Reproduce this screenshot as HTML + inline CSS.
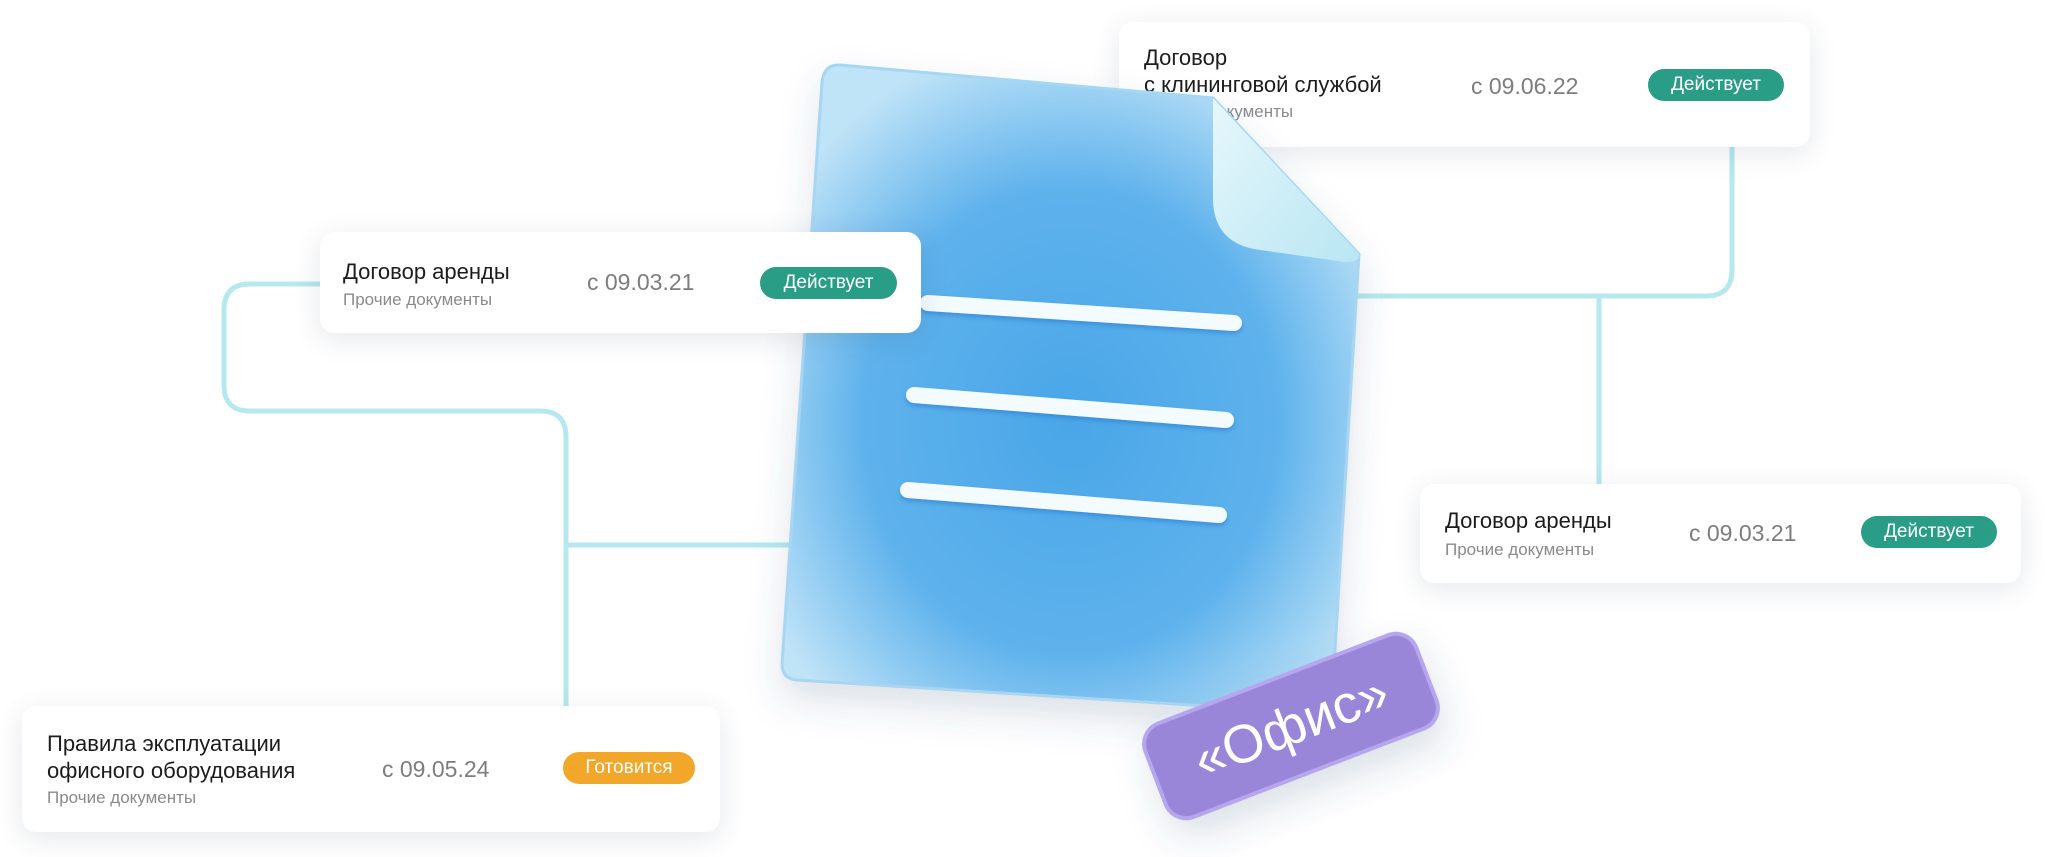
<!DOCTYPE html>
<html><head><meta charset="utf-8"><style>
body{margin:0;width:2045px;height:857px;background:#fff;position:relative;overflow:hidden;font-family:"Liberation Sans","Noto Sans CJK SC",sans-serif}
.card{position:absolute;background:#fff;border-radius:14px;box-shadow:0 6px 28px rgba(40,60,90,.12)}
.t{position:absolute;font-size:22px;color:#1c1c1c;line-height:27px}
.s{position:absolute;font-size:17px;color:#8a8a8a}
.d{position:absolute;font-size:23px;color:#7d7d7d}
.b{position:absolute;border-radius:17px;color:#fff;font-size:19px;text-align:center;line-height:32px;height:32px}
.g{background:#2a9d87}.o{background:#f2a72a}
svg{position:absolute;left:0;top:0}
</style></head><body>
<svg width="2045" height="857">
<g fill="none" stroke="#b6e8ef" stroke-width="5">
<path d="M320 284 H250 Q224 284 224 310 V385 Q224 411 250 411 H540 Q566 411 566 437 V706"/>
<path d="M566 545 H790"/>
<path d="M1732 147 V270 Q1732 296 1706 296 H1350"/>
<path d="M1599 296 V484"/>
</g>
</svg>
<div class="card" style="left:1119px;top:22px;width:691px;height:125px">
<div class="t" style="left:25px;top:22px">Договор<br>с клининговой службой</div>
<div class="s" style="left:25px;top:80px">Прочие документы</div>
<div class="d" style="left:352px;top:51px">с 09.06.22</div>
<div class="b g" style="left:529px;top:47px;width:136px">Действует</div>
</div>
<svg width="2045" height="857">
<defs>
<radialGradient id="dg" cx="0.5" cy="0.55" r="0.6">
<stop offset="0" stop-color="#4aa6e8"/><stop offset="0.6" stop-color="#5eb2ec"/><stop offset="1" stop-color="#bfe3f7"/>
</radialGradient>
<linearGradient id="fg" x1="0" y1="0" x2="1" y2="1"><stop offset="0" stop-color="#e6f7fb"/><stop offset="1" stop-color="#b9e6f3"/></linearGradient>
<filter id="sh" x="-50%" y="-50%" width="200%" height="200%"><feDropShadow dx="0" dy="18" stdDeviation="18" flood-color="#3a5a80" flood-opacity="0.18"/></filter>
<filter id="ls" x="-10%" y="-100%" width="120%" height="300%"><feDropShadow dx="0" dy="3" stdDeviation="2" flood-color="#2b7fd0" flood-opacity="0.6"/></filter>
</defs>
<path filter="url(#sh)" d="M840 65 L1213 98 L1359 254 L1332 700 Q1331 714 1316 713 L797 680 Q782 679 782 664 L822 82 Q824 64 840 65 Z" fill="url(#dg)" stroke="#a8d6f2" stroke-width="3"/>
<path d="M1213 98 L1359 254 Q1360 262 1345 262 L1260 250 Q1214 244 1213 200 Z" fill="url(#fg)"/>
<g stroke="#f4fbff" stroke-width="16" stroke-linecap="round" filter="url(#ls)">
<line x1="928" y1="303" x2="1234" y2="323"/>
<line x1="914" y1="395" x2="1226" y2="420"/>
<line x1="908" y1="490" x2="1219" y2="515"/>
</g>
<g transform="translate(1291 726) rotate(-21)">
<rect x="-145" y="-50" width="290" height="100" rx="22" fill="#9a86d8" stroke="#b5a6ee" stroke-width="4" filter="url(#sh)"/>
<text x="0" y="18" text-anchor="middle" font-family="Liberation Sans,sans-serif" font-size="54" fill="#fff">«Офис»</text>
</g>
</svg>
<div class="card" style="left:320px;top:232px;width:601px;height:101px">
<div class="t" style="left:23px;top:26px">Договор аренды</div>
<div class="s" style="left:23px;top:58px">Прочие документы</div>
<div class="d" style="left:267px;top:37px">с 09.03.21</div>
<div class="b g" style="left:440px;top:35px;width:137px">Действует</div>
</div>
<div class="card" style="left:1420px;top:484px;width:601px;height:99px">
<div class="t" style="left:25px;top:23px">Договор аренды</div>
<div class="s" style="left:25px;top:56px">Прочие документы</div>
<div class="d" style="left:269px;top:36px">с 09.03.21</div>
<div class="b g" style="left:441px;top:32px;width:136px">Действует</div>
</div>
<div class="card" style="left:22px;top:706px;width:698px;height:126px">
<div class="t" style="left:25px;top:24px">Правила эксплуатации<br>офисного оборудования</div>
<div class="s" style="left:25px;top:82px">Прочие документы</div>
<div class="d" style="left:360px;top:50px">с 09.05.24</div>
<div class="b o" style="left:541px;top:46px;width:132px">Готовится</div>
</div>
</body></html>
